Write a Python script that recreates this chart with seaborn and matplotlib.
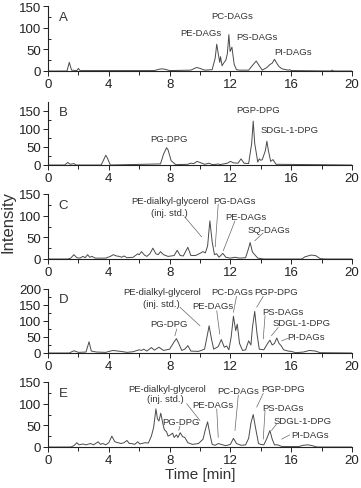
import numpy as np
import pandas as pd
import matplotlib
matplotlib.use("Agg")
import matplotlib.pyplot as plt
import seaborn as sns

# ---- data: chromatogram vertices (time [min], intensity) per panel ----
A_pts = [(0,0),(1.25,0),(1.4,20),(1.55,2),(1.9,1),(2.0,6),(2.1,1),(7.0,1),(7.3,4),(7.5,5),(7.7,4),(8.0,1),
         (9.4,2),(9.7,7),(9.8,8),(10.0,6),(10.3,2),(10.8,3),(11.0,30),(11.1,62),(11.2,40),(11.3,20),(11.35,33),
         (11.45,12),(11.55,18),(11.7,25),(11.8,40),(11.9,84),(11.98,45),(12.1,55),(12.25,15),(12.4,3),(12.6,2),
         (13.2,2),(13.5,15),(13.7,23),(13.9,12),(14.1,2),(14.4,8),(14.6,15),(14.75,18),(14.9,27),(15.05,18),
         (15.2,10),(15.4,5),(15.8,2),(15.9,3),(16.0,1),(18.6,0),(18.7,2),(18.8,0),(20,0)]
B_pts = [(0,0),(1.1,0),(1.3,7),(1.45,2),(1.6,3),(1.7,4),(1.85,0),(3.5,0),(3.7,18),(3.8,27),(3.9,20),(4.1,0),
         (7.4,3),(7.6,30),(7.8,48),(7.9,42),(8.1,12),(8.4,1),(9.2,2),(9.4,5),(9.6,4),(9.8,10),(10.0,7),(10.3,2),
         (10.6,5),(10.8,1),(11.1,2),(11.2,3),(11.3,1),(11.8,5),(12.0,10),(12.2,6),(12.5,5),(12.7,17),(12.9,5),
         (13.2,4),(13.4,60),(13.5,122),(13.6,60),(13.8,8),(13.9,17),(14.0,13),(14.1,15),(14.3,40),(14.4,66),
         (14.5,40),(14.65,10),(14.8,15),(15.0,2),(20,0)]
C_pts = [(0,0),(1.3,0),(1.5,2),(1.7,10),(1.9,3),(2.1,2),(2.3,6),(2.45,3),(2.6,10),(2.75,4),(2.9,6),(3.1,2),
         (3.8,2),(4.1,6),(4.3,10),(4.5,7),(4.7,6),(4.85,4),(5.0,7),(5.2,3),(5.6,4),(5.9,12),(6.0,10),(6.15,17),
         (6.35,9),(6.5,6),(6.7,12),(6.9,25),(7.1,12),(7.25,10),(7.4,17),(7.6,10),(7.9,6),(8.3,8),(8.5,20),
         (8.7,8),(8.9,7),(9.2,27),(9.4,8),(9.7,8),(10.0,13),(10.2,17),(10.35,14),(10.5,30),(10.65,88),(10.8,40),
         (10.95,10),(11.1,12),(11.25,4),(11.5,13),(11.7,4),(12.0,2),(12.3,4),(12.6,2),(13.0,3),(13.2,25),
         (13.3,38),(13.45,16),(13.6,10),(13.8,2),(14.2,0),(16.7,0),(16.9,5),(17.3,9),(17.6,8),(17.9,1),(18.2,0),(20,0)]
D_pts = [(0,0),(1.4,0),(1.7,7),(2.0,2),(2.5,3),(2.7,35),(2.85,6),(3.2,3),(3.8,2),(4.1,6),(4.3,8),(4.6,6),
         (4.8,5),(5.2,2),(5.6,4),(6.0,10),(6.15,8),(6.3,12),(6.5,6),(6.8,17),(7.0,9),(7.3,18),(7.6,8),(8.0,12),
         (8.3,35),(8.45,45),(8.6,30),(8.8,8),(9.0,12),(9.2,23),(9.4,6),(9.9,5),(10.3,12),(10.5,60),(10.6,85),
         (10.75,45),(10.9,12),(11.2,20),(11.4,42),(11.6,18),(11.75,22),(11.9,10),(12.05,50),(12.2,115),
         (12.35,70),(12.45,90),(12.6,30),(12.8,8),(13.0,10),(13.2,38),(13.35,25),(13.45,80),(13.6,130),
         (13.75,60),(13.9,12),(14.2,10),(14.45,30),(14.6,40),(14.75,25),(14.9,30),(15.05,47),(15.2,30),
         (15.35,22),(15.5,10),(15.8,6),(16.0,5),(16.3,1),(16.8,3),(17.2,8),(17.6,6),(17.9,1),(20,0)]
E_pts = [(0,0),(1.5,0),(1.7,3),(1.9,10),(2.05,5),(2.3,7),(2.5,5),(2.8,8),(3.0,5),(3.3,12),(3.45,6),(3.6,8),
         (3.8,5),(4.0,10),(4.2,25),(4.4,12),(4.6,10),(4.8,8),(5.0,10),(5.2,15),(5.35,8),(5.5,8),(5.7,6),(5.9,12),
         (6.05,7),(6.4,10),(6.6,9),(6.8,25),(6.95,45),(7.1,88),(7.2,65),(7.3,60),(7.42,78),(7.55,55),(7.65,40),
         (7.8,35),(7.9,25),(8.05,28),(8.2,32),(8.3,22),(8.45,28),(8.55,22),(8.7,33),(8.85,24),(9.0,22),(9.2,10),
         (9.5,6),(9.9,8),(10.2,18),(10.35,40),(10.5,58),(10.65,30),(10.8,6),(11.0,4),(11.2,8),(11.4,6),(11.7,3),
         (12.0,6),(12.2,20),(12.4,8),(12.7,4),(13.0,5),(13.2,20),(13.35,55),(13.5,75),(13.65,45),(13.85,8),
         (14.0,6),(14.2,5),(14.4,20),(14.6,38),(14.75,18),(14.9,5),(15.1,5),(15.4,1),(16.5,1),(16.8,4),(17.1,5),
         (17.4,3),(17.7,0),(20,0)]

panel_letters = ["A", "B", "C", "D", "E"]
panel_ymax = [150, 175, 150, 200, 150]
panel_yticks = [[0, 50, 100, 150], [0, 50, 100, 150], [0, 50, 100, 150], [0, 50, 100, 150, 200], [0, 50, 100, 150]]
x_ticks = [0, 4, 8, 12, 16, 20]

# labels: (text, text_x, text_y, line_start, line_end)
A_labels = [("PE-DAGs", 10.07, 90, None, None), ("PC-DAGs", 12.1, 127, None, None),
            ("PS-DAGs", 13.75, 79, None, None), ("PI-DAGs", 16.1, 46, None, None)]
B_labels = [("PG-DPG", 7.96, 75, None, None), ("PGP-DPG", 13.8, 154, None, None),
            ("SDGL-1-DPG", 15.9, 98, None, None)]
C_labels = [("PE-dialkyl-glycerol", 8.03, 135, None, None),
            ("(inj. std.)", 7.97, 108, (9.0, 97), (10.11, 51)),
            ("PG-DAGs", 12.24, 136, (11.2, 127), (11.0, 28)),
            ("PE-DAGs", 13.0, 98, (12.3, 88), (11.53, 19)),
            ("SQ-DAGs", 14.5, 69, (14.15, 60), (13.6, 42))]
D_labels = [("PE-dialkyl-glycerol", 7.48, 192, None, None),
            ("(inj. std.)", 7.48, 156, (8.68, 143), (10.0, 85)),
            ("PG-DPG", 7.96, 91, (8.47, 75), (8.35, 54)),
            ("PE-DAGs", 10.87, 148, (11.1, 132), (11.3, 59)),
            ("PC-DAGs", 12.14, 192, (12.4, 177), (12.2, 127)),
            ("PGP-DPG", 15.04, 192, (14.16, 177), (13.73, 143)),
            ("PS-DAGs", 15.43, 129, (14.28, 117), (14.16, 44)),
            ("SDGL-1-DPG", 16.69, 94, (15.15, 80), (14.7, 54)),
            ("PI-DAGs", 17.0, 52, (15.8, 46), (15.37, 38))]
E_labels = [("PE-dialkyl-glycerol", 7.86, 136, None, None),
            ("(inj. std.)", 7.7, 113, (9.12, 100), (10.0, 61)),
            ("PG-DPG", 8.74, 59, (8.68, 48), (8.6, 38)),
            ("PE-DAGs", 10.82, 99, (11.1, 88), (11.2, 22)),
            ("PC-DAGs", 12.5, 131, (12.52, 120), (12.3, 38)),
            ("PGP-DPG", 15.5, 134, (14.16, 124), (13.73, 92)),
            ("PS-DAGs", 15.46, 92, (14.28, 84), (14.16, 18)),
            ("SDGL-1-DPG", 16.78, 61, (15.04, 53), (14.7, 38)),
            ("PI-DAGs", 17.24, 28, (15.9, 28), (15.37, 18))]

all_pts = [A_pts, B_pts, C_pts, D_pts, E_pts]
all_labels = [A_labels, B_labels, C_labels, D_labels, E_labels]

# ---- plotting ----
sns.set_style("ticks")
plt.rcParams["font.family"] = ["Liberation Sans", "DejaVu Sans"]

W, H = 361, 489
fig = plt.figure(figsize=(W / 100, H / 100), dpi=100)
left = 48 / W
width = (352 - 48) / W
bottoms_px = [72, 166, 260, 354, 448]
top_px = [7, 103, 195, 290, 383]

line_col = "#4a4a4a"
txt_col = "#333333"

for i in range(5):
    b = 1 - bottoms_px[i] / H
    h = (bottoms_px[i] - top_px[i]) / H
    ax = fig.add_axes([left, b, width, h])
    df = pd.DataFrame(all_pts[i], columns=["time", "intensity"])
    sns.lineplot(data=df, x="time", y="intensity", ax=ax, color=line_col,
                 linewidth=0.7, estimator=None, sort=False)
    ax.set_xlim(0, 20)
    ax.set_ylim(0, panel_ymax[i])
    ax.set_xticks(x_ticks)
    ax.set_xticks([2, 6, 10, 14, 18], minor=True)
    ax.set_yticks(panel_yticks[i])
    minor_y = [v + 25 for v in panel_yticks[i] if v + 25 < panel_ymax[i]]
    ax.set_yticks(minor_y, minor=True)
    ax.tick_params(axis="both", which="major", direction="out", length=3.5, width=0.7,
                   labelsize=9.5, colors="#222222", pad=1.5)
    ax.tick_params(axis="x", which="minor", direction="out", length=3, width=0.7, colors="#222222")
    ax.tick_params(axis="y", which="minor", direction="in", length=2.5, width=0.7, colors="#222222")
    ax.set_xlabel("")
    ax.set_ylabel("")
    for s in ["top", "right"]:
        ax.spines[s].set_visible(False)
    for s in ["left", "bottom"]:
        ax.spines[s].set_linewidth(0.8)
        ax.spines[s].set_color("#222222")
    ax.text(0.035, 0.93, panel_letters[i], transform=ax.transAxes, fontsize=9.5,
            color=txt_col, ha="left", va="top")
    for (txt, tx, ty, p0, p1) in all_labels[i]:
        ax.text(tx, ty, txt, fontsize=6.8, color=txt_col, ha="center", va="center")
        if p0 is not None:
            ax.plot([p0[0], p1[0]], [p0[1], p1[1]], color="#666666", lw=0.5)
    if i == 4:
        ax.set_xlabel("Time [min]", fontsize=11, color=txt_col, labelpad=1)

fig.text(8 / W, 1 - 222 / H, "Intensity", rotation=90, fontsize=12, color=txt_col,
         ha="center", va="center")

fig.savefig("out.png", dpi=100)
